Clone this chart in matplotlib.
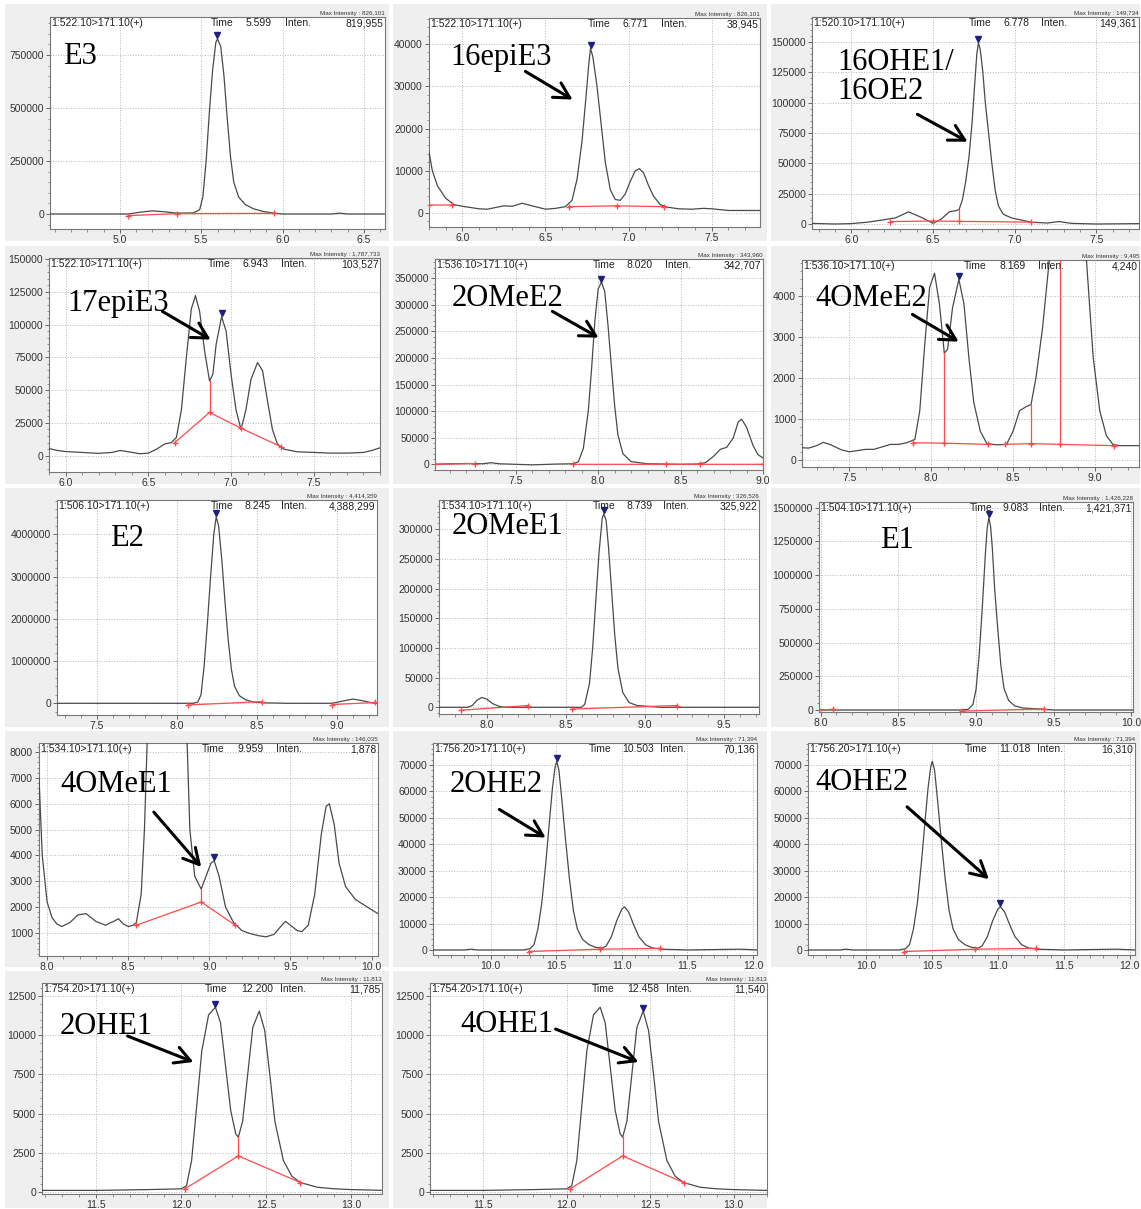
import matplotlib
matplotlib.use('Agg')
import matplotlib.pyplot as plt
from matplotlib.patches import Rectangle, FancyArrowPatch
from matplotlib.ticker import MultipleLocator, AutoMinorLocator, FuncFormatter
from matplotlib.transforms import ScaledTranslation

plt.rcParams['font.family'] = ['Liberation Sans', 'DejaVu Sans']
nan = float('nan')
W, H = 1141, 1209

# ---- traces (time [min], intensity) ----
e3 = [(4.57, 0), (5.05, 0), (5.12, 8000), (5.2, 15000), (5.28, 10000), (5.35, 4000), (5.45, 5000),
      (5.49, 20000), (5.51, 80000), (5.53, 250000), (5.55, 480000), (5.57, 680000), (5.59, 810000),
      (5.60, 826000), (5.62, 790000), (5.64, 650000), (5.66, 450000), (5.68, 270000), (5.70, 150000),
      (5.73, 80000), (5.77, 45000), (5.82, 25000), (5.88, 12000), (5.94, 5000), (6.0, 0), (6.3, 0),
      (6.35, 4000), (6.4, 0), (6.63, 0)]
e3_base = [(5.05, -8000), (5.35, 2000), (5.95, 3000)]

epi16 = [(5.8, 14500), (5.82, 10000), (5.85, 6500), (5.9, 3500), (5.95, 2000), (6.0, 1600), (6.1, 1000),
         (6.15, 900), (6.2, 1300), (6.25, 1700), (6.3, 1600), (6.36, 2300), (6.42, 1700), (6.5, 900),
         (6.56, 1100), (6.62, 1500), (6.66, 3000), (6.69, 8000), (6.72, 17000), (6.745, 28000),
         (6.76, 35000), (6.771, 38945), (6.785, 37000), (6.81, 30000), (6.835, 21000), (6.86, 12000),
         (6.89, 5500), (6.92, 3200), (6.95, 3000), (6.98, 4500), (7.01, 7500), (7.04, 10000),
         (7.065, 10500), (7.09, 9500), (7.12, 6500), (7.15, 4000), (7.19, 2000), (7.23, 1400),
         (7.3, 1000), (7.38, 900), (7.45, 1100), (7.5, 1000), (7.6, 600), (7.8, 600)]
epi16_base = [(5.8, 1900), (5.94, 1900), (nan, nan), (6.64, 1500), (6.93, 1700), (7.21, 1500)]

ohe16 = [(5.76, 500), (5.9, 0), (6.0, 300), (6.1, 1500), (6.2, 3500), (6.27, 5000), (6.35, 10000),
         (6.42, 6000), (6.48, 2000), (6.5, 500), (6.55, 4000), (6.6, 10000), (6.64, 11000), (6.66, 12000),
         (6.68, 20000), (6.70, 35000), (6.72, 55000), (6.74, 85000), (6.755, 115000), (6.768, 140000),
         (6.778, 149400), (6.79, 143000), (6.805, 125000), (6.82, 100000), (6.84, 75000), (6.86, 50000),
         (6.88, 28000), (6.90, 15000), (6.93, 8000), (6.98, 5000), (7.05, 3000), (7.1, 1500), (7.2, 800),
         (7.27, 2000), (7.35, 500), (7.5, 0), (7.76, 300)]
ohe16_base = [(6.24, 2000), (6.5, 2500), (6.66, 2200), (7.1, 1500)]
ohe16_cuts = [(6.66, 2200, 11500)]

epi17 = [(5.9, 5500), (5.95, 4000), (6.0, 3200), (6.1, 2500), (6.2, 1800), (6.28, 2500), (6.33, 4000),
         (6.38, 3000), (6.45, 1500), (6.5, 2000), (6.55, 5000), (6.6, 9000), (6.64, 10000), (6.67, 14000),
         (6.7, 35000), (6.73, 75000), (6.76, 112000), (6.785, 122000), (6.81, 110000), (6.84, 80000),
         (6.87, 57000), (6.89, 62000), (6.91, 85000), (6.943, 106000), (6.97, 95000), (7.0, 62000),
         (7.03, 35000), (7.06, 20000), (7.09, 35000), (7.12, 58000), (7.16, 71000), (7.19, 65000),
         (7.22, 42000), (7.25, 20000), (7.28, 9000), (7.32, 5000), (7.4, 3000), (7.5, 2500), (7.6, 2000),
         (7.7, 2000), (7.8, 2500), (7.85, 4000), (7.9, 6000)]
epi17_base = [(6.66, 10000), (6.87, 33000), (7.06, 21000), (7.3, 7000)]
epi17_cuts = [(6.87, 33000, 57000)]

ome2_2 = [(7.01, 0), (7.1, 1000), (7.2, 1500), (7.3, 1000), (7.35, 3000), (7.4, 1000), (7.6, -1000),
          (7.75, 500), (7.85, 1000), (7.88, 5000), (7.91, 30000), (7.94, 100000), (7.96, 180000),
          (7.98, 270000), (8.0, 330000), (8.02, 343000), (8.04, 325000), (8.06, 260000), (8.08, 185000),
          (8.10, 110000), (8.12, 55000), (8.15, 20000), (8.2, 5000), (8.3, 1000), (8.5, 0), (8.6, 500),
          (8.65, 3000), (8.7, 15000), (8.74, 28000), (8.78, 32000), (8.82, 50000), (8.85, 80000),
          (8.87, 85000), (8.9, 70000), (8.94, 35000), (8.97, 18000), (9.0, 12000)]
ome2_2_base = [(7.01, 0), (7.25, 1500), (nan, nan), (7.85, 0), (8.41, 0), (8.62, 0), (9.0, 0)]

ome2_4 = [(7.21, 300), (7.25, 290), (7.3, 350), (7.34, 430), (7.38, 380), (7.45, 250), (7.5, 200),
          (7.55, 230), (7.6, 260), (7.65, 260), (7.7, 320), (7.75, 380), (7.8, 380), (7.85, 420), (7.9, 500),
          (7.93, 1200), (7.96, 2800), (7.99, 4200), (8.02, 4550), (8.05, 3800), (8.08, 2600), (8.1, 2700),
          (8.13, 3700), (8.169, 4400), (8.2, 3800), (8.23, 2500), (8.26, 1400), (8.3, 700), (8.34, 400),
          (8.4, 370), (8.46, 380), (8.5, 700), (8.54, 1200), (8.58, 1300), (8.61, 1350), (8.64, 2000),
          (8.68, 3200), (8.72, 4800), (8.78, 8000), (8.85, 9495), (8.91, 7500), (8.95, 4800), (8.99, 2500),
          (9.03, 1200), (9.07, 600), (9.11, 380), (9.15, 350), (9.27, 350)]
ome2_4_base = [(7.89, 420), (8.08, 410), (8.35, 380), (nan, nan), (8.45, 380), (8.61, 400), (8.79, 380),
               (9.12, 350)]
ome2_4_cuts = [(8.08, 410, 2600), (8.61, 400, 1350), (8.79, 380, 9000)]

e2 = [(7.25, 0), (8.1, 0), (8.13, 30000), (8.15, 200000), (8.17, 900000), (8.19, 1900000), (8.21, 3000000),
      (8.23, 4000000), (8.245, 4414000), (8.26, 4200000), (8.28, 3400000), (8.30, 2400000), (8.32, 1500000),
      (8.34, 800000), (8.36, 400000), (8.39, 180000), (8.43, 80000), (8.48, 30000), (8.55, 10000), (8.7, 0),
      (8.97, 0), (9.03, 50000), (9.1, 100000), (9.16, 60000), (9.22, 10000), (9.25, 0)]
e2_base = [(8.07, -40000), (8.53, 40000), (nan, nan), (8.97, -30000), (9.24, 20000)]

ome1_2 = [(7.70, 0), (7.88, 0), (7.91, 3000), (7.94, 12000), (7.97, 16500), (8.0, 14000), (8.04, 6000),
          (8.08, 1500), (8.12, 0), (8.6, 0), (8.62, 5000), (8.65, 40000), (8.67, 100000), (8.69, 180000),
          (8.71, 260000), (8.73, 318000), (8.74, 326000), (8.755, 315000), (8.77, 270000), (8.79, 195000),
          (8.81, 120000), (8.83, 65000), (8.86, 25000), (8.9, 8000), (8.95, 3000), (9.05, 1000), (9.1, 0),
          (9.72, 0)]
ome1_2_base = [(7.84, -5000), (8.26, 3000), (nan, nan), (8.54, -3000), (9.2, 3000)]

e1 = [(7.99, 0), (8.9, 0), (8.95, 5000), (8.98, 40000), (9.0, 150000), (9.02, 400000), (9.04, 750000),
      (9.06, 1150000), (9.072, 1350000), (9.083, 1426000), (9.094, 1360000), (9.105, 1200000),
      (9.12, 900000), (9.14, 600000), (9.16, 330000), (9.18, 160000), (9.21, 70000), (9.25, 30000),
      (9.3, 15000), (9.4, 8000), (9.5, 0), (10.01, 0)]
e1_base = [(7.99, 0), (8.08, 5000), (nan, nan), (8.91, -8000), (9.44, 8000)]

ome1_4 = [(7.95, 7000), (7.97, 4000), (8.0, 2200), (8.03, 1600), (8.06, 1350), (8.09, 1250), (8.14, 1400),
          (8.19, 1700), (8.24, 1750), (8.3, 1450), (8.36, 1300), (8.41, 1450), (8.44, 1550), (8.47, 1350),
          (8.5, 1250), (8.53, 1300), (8.55, 1400), (8.58, 2500), (8.60, 5000), (8.62, 9000), (8.7, 60000),
          (8.75, 146035), (8.8, 60000), (8.86, 9000), (8.88, 5000), (8.91, 3200), (8.95, 2700), (8.98, 3200),
          (9.01, 3700), (9.03, 3800), (9.06, 3200), (9.1, 2000), (9.15, 1400), (9.2, 1100), (9.24, 1000),
          (9.3, 900), (9.35, 850), (9.4, 950), (9.44, 1250), (9.47, 1450), (9.5, 1300), (9.54, 1100),
          (9.57, 1050), (9.61, 1300), (9.65, 2500), (9.69, 4800), (9.72, 5900), (9.74, 6000), (9.77, 5200),
          (9.8, 3700), (9.84, 2800), (9.9, 2300), (9.95, 2100), (10.0, 1900), (10.04, 1750)]
ome1_4_base = [(8.55, 1300), (8.95, 2200), (9.16, 1300)]
ome1_4_cuts = [(8.95, 2200, 2700)]

m756 = [(9.56, 0), (9.8, 0), (9.85, 300), (9.9, 0), (10.25, 0), (10.3, 500), (10.33, 2000), (10.36, 8000),
        (10.39, 18000), (10.42, 33000), (10.45, 50000), (10.47, 61000), (10.49, 69000), (10.503, 71394),
        (10.52, 68000), (10.54, 58000), (10.57, 42000), (10.6, 27000), (10.63, 15000), (10.66, 8000),
        (10.7, 4000), (10.75, 2000), (10.8, 1000), (10.85, 700), (10.88, 1500), (10.92, 5000),
        (10.96, 11000), (11.0, 15500), (11.02, 16310), (11.05, 14500), (11.09, 9500), (11.13, 5000),
        (11.18, 2000), (11.23, 800), (11.3, 300), (11.5, 0), (11.9, 300), (12.04, 0)]
m756_base = [(10.29, -600), (10.83, 300), (11.29, 600)]

m754 = [(11.18, 100), (11.5, 100), (11.8, 150), (12.0, 200), (12.03, 400), (12.06, 2000), (12.09, 5500),
        (12.12, 9000), (12.16, 11300), (12.2, 11785), (12.23, 10800), (12.26, 8000), (12.29, 5200),
        (12.32, 3700), (12.335, 3500), (12.36, 4500), (12.39, 7500), (12.42, 10500), (12.458, 11540),
        (12.49, 10300), (12.52, 7500), (12.55, 4500), (12.6, 2000), (12.65, 1000), (12.7, 600), (12.8, 300),
        (12.9, 200), (13.0, 150), (13.2, 100)]
m754_base = [(12.02, 200), (12.335, 2300), (12.7, 600)]
m754_cuts = [(12.335, 2300, 3500)]

# header texts: transition, Time, Inten., Max Intensity
heads = {
    'E3': ('1:522.10>171.10(+)', '5.599', '819,955', '826,101'),
    '16epiE3': ('1:522.10>171.10(+)', '6.771', '38,945', '826,101'),
    '16OHE1/\n16OE2': ('1:520.10>171.10(+)', '6.778', '149,361', '149,734'),
    '17epiE3': ('1:522.10>171.10(+)', '6.943', '103,527', '1,787,733'),
    '2OMeE2': ('1:536.10>171.10(+)', '8.020', '342,707', '343,960'),
    '4OMeE2': ('1:536.10>171.10(+)', '8.169', '4,240', '9,495'),
    'E2': ('1:506.10>171.10(+)', '8.245', '4,388,299', '4,414,359'),
    '2OMeE1': ('1:534.10>171.10(+)', '8.739', '325,922', '326,526'),
    'E1': ('1:504.10>171.10(+)', '9.083', '1,421,371', '1,426,228'),
    '4OMeE1': ('1:534.10>171.10(+)', '9.959', '1,878', '146,035'),
    '2OHE2': ('1:756.20>171.10(+)', '10.503', '70,136', '71,394'),
    '4OHE2': ('1:756.20>171.10(+)', '11.018', '16,310', '71,394'),
    '2OHE1': ('1:754.20>171.10(+)', '12.200', '11,785', '11,813'),
    '4OHE1': ('1:754.20>171.10(+)', '12.458', '11,540', '11,813'),
}
apex = {'E3': (5.599, 826101), '16epiE3': (6.771, 38945), '16OHE1/\n16OE2': (6.778, 149361),
        '17epiE3': (6.943, 106000), '2OMeE2': (8.020, 343000), '4OMeE2': (8.169, 4400),
        'E2': (8.245, 4414000), '2OMeE1': (8.739, 326000), 'E1': (9.083, 1426000),
        '4OMeE1': (9.03, 3800), '2OHE2': (10.503, 71394), '4OHE2': (11.018, 16310),
        '2OHE1': (12.200, 11785), '4OHE1': (12.458, 11540)}

# layout: name, trace, baseline, cuts, axes box px (l,t,r,b), xlim, ylim, ystep, label px, arrow px
panels = [
    ('E3', e3, e3_base, [], (50, 17, 385, 229), (4.57, 6.63), (-70800, 929200), 250000, (63, 57), None),
    ('16epiE3', epi16, epi16_base, [], (429, 18, 760, 227), (5.8, 7.79), (-3310, 46150), 10000,
     (450, 57), ((523, 70), (575, 101))),
    ('16OHE1/\n16OE2', ohe16, ohe16_base, ohe16_cuts, (812, 17, 1139, 229), (5.76, 7.76), (-4120, 170600),
     25000, (837, 77), ((915, 113), (970, 143))),
    ('17epiE3', epi17, epi17_base, epi17_cuts, (49, 258, 380, 472), (5.9, 7.9), (-12400, 150700), 25000,
     (67, 303), ((160, 310), (213, 341))),
    ('2OMeE2', ome2_2, ome2_2_base, [], (435, 259, 763, 470), (7.01, 9.0), (-10700, 386300), 50000,
     (452, 298), ((550, 310), (601, 339))),
    ('4OMeE2', ome2_4, ome2_4_base, ome2_4_cuts, (802, 260, 1139, 467), (7.21, 9.27), (-170, 4870), 1000,
     (815, 298), ((910, 313), (961, 343))),
    ('E2', e2, e2_base, [], (57, 500, 377, 715), (7.25, 9.25), (-277000, 4812000), 1000000, (110, 538), None),
    ('2OMeE1', ome1_2, ome1_2_base, [], (439, 500, 759, 714), (7.70, 9.72), (-11300, 349400), 50000,
     (452, 527), None),
    ('E1', e1, e1_base, [], (819, 502, 1133, 712), (7.99, 10.01), (-15000, 1542000), 250000, (880, 540), None),
    ('4OMeE1', ome1_4, ome1_4_base, ome1_4_cuts, (39, 743, 378, 956), (7.95, 10.04), (110, 8350), 1000,
     (60, 784), ((152, 810), (203, 869))),
    ('2OHE2', m756, m756_base, [], (433, 743, 757, 955), (9.56, 12.03), (-1900, 78300), 10000,
     (450, 784), ((497, 808), (548, 839))),
    ('4OHE2', m756, m756_base, [], (808, 743, 1135, 955), (9.56, 12.04), (-1900, 78300), 10000,
     (815, 783), ((905, 805), (991, 881))),
    ('2OHE1', m754, m754_base, m754_cuts, (42, 983, 382, 1194), (11.18, 13.18), (-130, 13330), 2500,
     (60, 1026), ((125, 1035), (196, 1063))),
    ('4OHE1', m754, m754_base, m754_cuts, (430, 983, 767, 1194), (11.18, 13.2), (-130, 13330), 2500,
     (460, 1025), ((553, 1028), (641, 1063))),
]

# grey panel backgrounds (px)
cols = [(5, 389), (393, 767), (771, 1140)]
rows = [(4, 241), (246, 484), (488, 727), (731, 967), (971, 1208)]

fig = plt.figure(figsize=(W / 100, H / 100), dpi=100)
for r, (y0, y1) in enumerate(rows):
    for c, (x0, x1) in enumerate(cols):
        if r == 4 and c == 2:
            continue
        fig.add_artist(Rectangle((x0 / W, 1 - y1 / H), (x1 - x0) / W, (y1 - y0) / H,
                                 transform=fig.transFigure, facecolor='#efefef', edgecolor='none', zorder=0))

red = '#ff4a4a'
for name, trace, base, cuts, (l, t, r, b), xlim, ylim, ystep, lab, arrow in panels:
    ax = fig.add_axes([l / W, 1 - b / H, (r - l) / W, (b - t) / H])
    ax.set_facecolor('white')
    tt, ii = zip(*trace)
    ax.plot(tt, ii, color='#4a4a4a', lw=0.9, zorder=3)
    bt, bi = zip(*base)
    ax.plot(bt, bi, color=red, lw=0.9, marker='+', ms=5, mew=1.0, zorder=4)
    for ct, c0, c1 in cuts:
        ax.plot([ct, ct], [c0, c1], color=red, lw=0.9, zorder=4)
    off = ScaledTranslation(0, 2.5 / 72, fig.dpi_scale_trans)
    ax.plot(*apex[name], marker='v', color='#1f1f80', ms=4, transform=ax.transData + off, zorder=5)

    ax.set_xlim(*xlim)
    ax.set_ylim(*ylim)
    ax.xaxis.set_major_locator(MultipleLocator(0.5))
    ax.xaxis.set_minor_locator(MultipleLocator(0.1))
    ax.yaxis.set_major_locator(MultipleLocator(ystep))
    ax.yaxis.set_minor_locator(AutoMinorLocator(5))
    ax.xaxis.set_major_formatter(FuncFormatter(lambda v, _: f'{v:.1f}'))
    ax.yaxis.set_major_formatter(FuncFormatter(lambda v, _: f'{int(round(v))}'))
    ax.grid(True, which='major', ls=':', color='#b8b8b8', lw=0.7)
    ax.tick_params(which='both', direction='out', color='#666', labelsize=7.5, labelcolor='#333', pad=1.2)
    ax.tick_params(which='major', length=3.2, width=0.7)
    ax.tick_params(which='minor', length=1.8, width=0.5)
    for s in ax.spines.values():
        s.set_color('#777')
        s.set_linewidth(0.8)

    mz, tm, inten, mx = heads[name]
    kw = dict(transform=ax.transAxes, va='top', fontsize=7.5, color='#222', zorder=6)
    ax.text(0.005, 0.995, mz, ha='left', **kw)
    ax.text(0.48, 0.995, 'Time', ha='left', **kw)
    ax.text(0.585, 0.995, tm, ha='left', **kw)
    ax.text(0.70, 0.995, 'Inten.', ha='left', **kw)
    ax.text(0.995, 0.995, inten, ha='right', **kw)
    ax.text(1.0, 1.006, 'Max Intensity : ' + mx, transform=ax.transAxes, ha='right', va='bottom',
            fontsize=4.5, color='#333')

    fig.text(lab[0] / W, 1 - lab[1] / H, name, family='Liberation Serif', fontsize=22,
             ha='left', va='center', linespacing=1.0, zorder=10)
    if arrow:
        (x0, y0), (x1, y1) = arrow
        fig.add_artist(FancyArrowPatch((x0 / W, 1 - y0 / H), (x1 / W, 1 - y1 / H), transform=fig.transFigure,
                                       arrowstyle='->,head_length=0.55,head_width=0.3', mutation_scale=20,
                                       lw=2.2, color='black', zorder=10))

fig.savefig('out.png', dpi=100)
